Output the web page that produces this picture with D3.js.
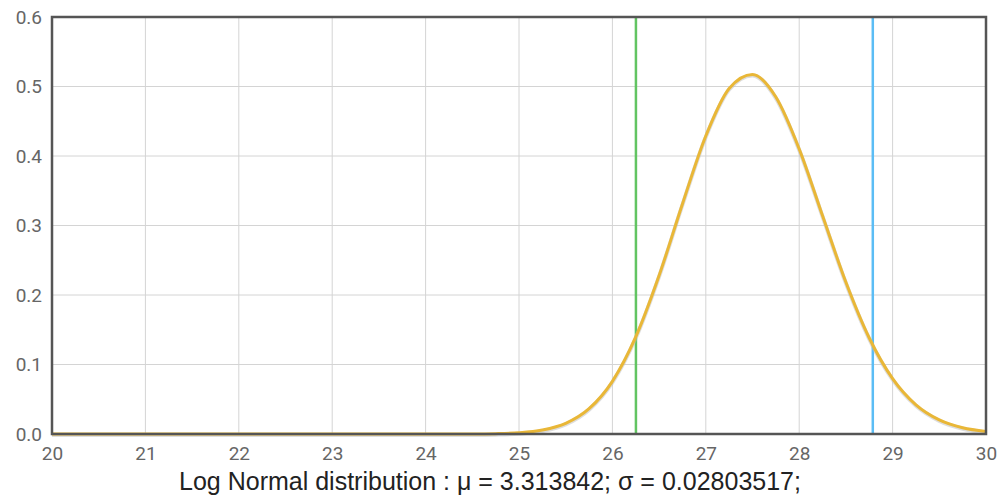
<!DOCTYPE html>
<html><head><meta charset="utf-8">
<script src="https://cdn.jsdelivr.net/npm/d3@7"></script>
<style>body{margin:0;background:#fff}svg{display:block}</style>
</head><body><svg id="c" width="998" height="500"></svg>
<script>
const xTicks = [20,21,22,23,24,25,26,27,28,29,30];
const yTicks = [0,0.1,0.2,0.3,0.4,0.5,0.6];
const curveX = [20,21,22,23,24,24.5,24.75,25,25.25,25.5,25.75,26,26.25,26.5,26.75,27,27.25,27.5,27.75,28,28.25,28.5,28.75,29,29.25,29.5,29.75,30];
const curveY = [0,0,0,0,0.00002,0.00013,0.00052,0.0018,0.0057,0.0153,0.0364,0.0758,0.1396,0.228,0.331,0.4288,0.4972,0.5174,0.4848,0.4101,0.3141,0.2183,0.1381,0.0797,0.042,0.0203,0.009,0.0037];
const markerX = [26.252, 28.788];
const markerColors = ["#62c462","#5bbdf5"];
const title = "Log Normal distribution : μ = 3.313842; σ = 0.02803517;";

const svg = d3.select("#c");
const L=52,R=986,T=17,B=434;
const x = d3.scaleLinear().domain([20,30]).range([L,R]);
const y = d3.scaleLinear().domain([0,0.6]).range([B,T]);

const g = svg.append("g");
g.selectAll(".vg").data(xTicks).enter().append("line")
 .attr("x1",d=>x(d)).attr("x2",d=>x(d)).attr("y1",T).attr("y2",B)
 .attr("stroke","#d4d4d4").attr("stroke-width",1);
g.selectAll(".hg").data(yTicks).enter().append("line")
 .attr("x1",L).attr("x2",R).attr("y1",d=>y(d)).attr("y2",d=>y(d))
 .attr("stroke","#d4d4d4").attr("stroke-width",1);

markerX.forEach((m,i)=>{
  g.append("line").attr("x1",x(m)).attr("x2",x(m)).attr("y1",T).attr("y2",B)
   .attr("stroke",markerColors[i]).attr("stroke-width",2.5);
});

const pts = curveX.map((v,i)=>[v,curveY[i]]);
const line = d3.line().x(d=>x(d[0])).y(d=>y(d[1])).curve(d3.curveMonotoneX);
g.append("path").datum(pts).attr("d",line).attr("fill","none")
 .attr("stroke","#bbb").attr("stroke-width",4).attr("opacity",0.5).attr("transform","translate(0,1)");
g.append("path").datum(pts).attr("d",line).attr("fill","none")
 .attr("stroke","#e9b737").attr("stroke-width",3);

g.append("rect").attr("x",L).attr("y",T).attr("width",R-L).attr("height",B-T)
 .attr("fill","none").attr("stroke","#555").attr("stroke-width",2.5);

const xa = d3.axisBottom(x).tickValues(xTicks).tickSize(0).tickPadding(13).tickFormat(d3.format("d"));
const xg = svg.append("g").attr("transform",`translate(0,${B})`).call(xa);
xg.select(".domain").remove();
xg.selectAll("text").attr("fill","#666").style("font-family","Roboto, sans-serif").style("font-size","19px");

const ya = d3.axisLeft(y).tickValues(yTicks).tickSize(0).tickPadding(10).tickFormat(d3.format(".1f"));
const yg = svg.append("g").attr("transform",`translate(${L},0)`).call(ya);
yg.select(".domain").remove();
yg.selectAll("text").attr("fill","#666").style("font-family","Roboto, sans-serif").style("font-size","19px");

svg.append("text").attr("x",490).attr("y",490).attr("text-anchor","middle")
 .attr("fill","#222").style("font-family","'Liberation Sans', Arial, sans-serif").style("font-size","25px")
 .text(title);
</script></body></html>
